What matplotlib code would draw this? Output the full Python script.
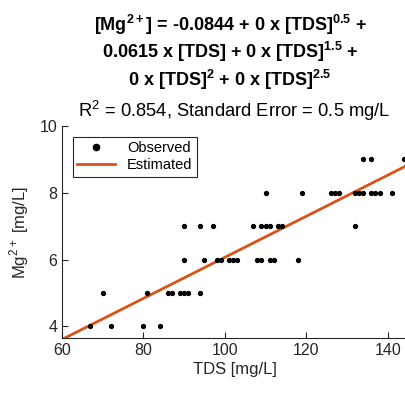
import numpy as np
import matplotlib.pyplot as plt

plt.rcParams['font.family'] = ['Liberation Sans', 'DejaVu Sans']
plt.rcParams['mathtext.fontset'] = 'custom'
plt.rcParams['mathtext.rm'] = 'Liberation Sans'
plt.rcParams['mathtext.bf'] = 'Liberation Sans:bold'

# observed points
tds = [67, 72, 80, 84,
       70, 81, 86, 87, 89, 90, 91, 94,
       90, 95, 98, 99, 101, 102, 103, 108, 109, 111, 112, 118,
       90, 94, 97, 107, 109, 110, 111, 113, 114, 132,
       110, 119, 126, 127, 128, 132, 133, 134, 136, 137, 138, 141,
       134, 136, 144]
mg = [4] * 4 + [5] * 8 + [6] * 12 + [7] * 10 + [8] * 12 + [9] * 3

# fitted coefficients
b0 = -0.0844
b1 = 0.0615
x_fit = np.array([60, 145])
y_fit = b0 + b1 * x_fit

W, H = 406, 394
fig = plt.figure(figsize=(W / 100, H / 100), dpi=100)
ax = fig.add_axes([62 / W, (H - 338) / H, (408 - 62) / W, (338 - 126) / H])

ax.plot(tds, mg, 'o', color='k', markersize=2.8, label='Observed', zorder=3)
ax.plot(x_fit, y_fit, '-', color='#D95319', linewidth=2, label='Estimated')

ax.set_xlim(60, 145)
ax.set_ylim(3.65, 10)
ax.set_xticks([60, 80, 100, 120, 140])
ax.set_yticks([4, 6, 8, 10])
for s in ['top', 'right']:
    ax.spines[s].set_visible(False)
for s in ['left', 'bottom']:
    ax.spines[s].set_color('#262626')
ax.tick_params(direction='in', length=4, colors='#262626', labelsize=11.5)
ax.set_xlabel('TDS [mg/L]', fontsize=12, color='#262626', labelpad=3)
ax.set_ylabel('Mg$^{2+}$ [mg/L]', fontsize=12, color='#262626', labelpad=6)

leg = ax.legend(loc='upper left', fontsize=10.5, fancybox=False, edgecolor='#262626',
                handlelength=2.6, borderpad=0.3, labelspacing=0.2, framealpha=1,
                markerscale=1.6, bbox_to_anchor=(0.032, 0.948), borderaxespad=0)
leg.get_frame().set_linewidth(0.8)

# title lines: text, baseline (px from top), centre x, wanted width (px), weight
lines = [
    (r'[Mg$^{\mathbf{2+}}$] = -0.0844 + 0 x [TDS]$^{\mathbf{0.5}}$ +', 31, 230, 274, 'bold'),
    (r'0.0615 x [TDS] + 0 x [TDS]$^{\mathbf{1.5}}$ +', 58, 230, None, 'bold'),
    (r'0 x [TDS]$^{\mathbf{2}}$ + 0 x [TDS]$^{\mathbf{2.5}}$', 86, 230, None, 'bold'),
    (r'R$^2$ = 0.854, Standard Error = 0.5 mg/L', 117, 234, 312, 'normal'),
]
renderer = fig.canvas.get_renderer()
bold_size = 12.5
for txt, yb, xc, want, wt in lines:
    fs = bold_size if wt == 'bold' else 12
    t = fig.text(xc / W, (H - yb) / H, txt, ha='center', va='baseline',
                 fontsize=fs, fontweight=wt, color='k')
    if want:
        w = t.get_window_extent(renderer).width
        fs = fs * want / w
        t.set_fontsize(fs)
        if wt == 'bold':
            bold_size = fs

fig.savefig('out.png', dpi=100)
